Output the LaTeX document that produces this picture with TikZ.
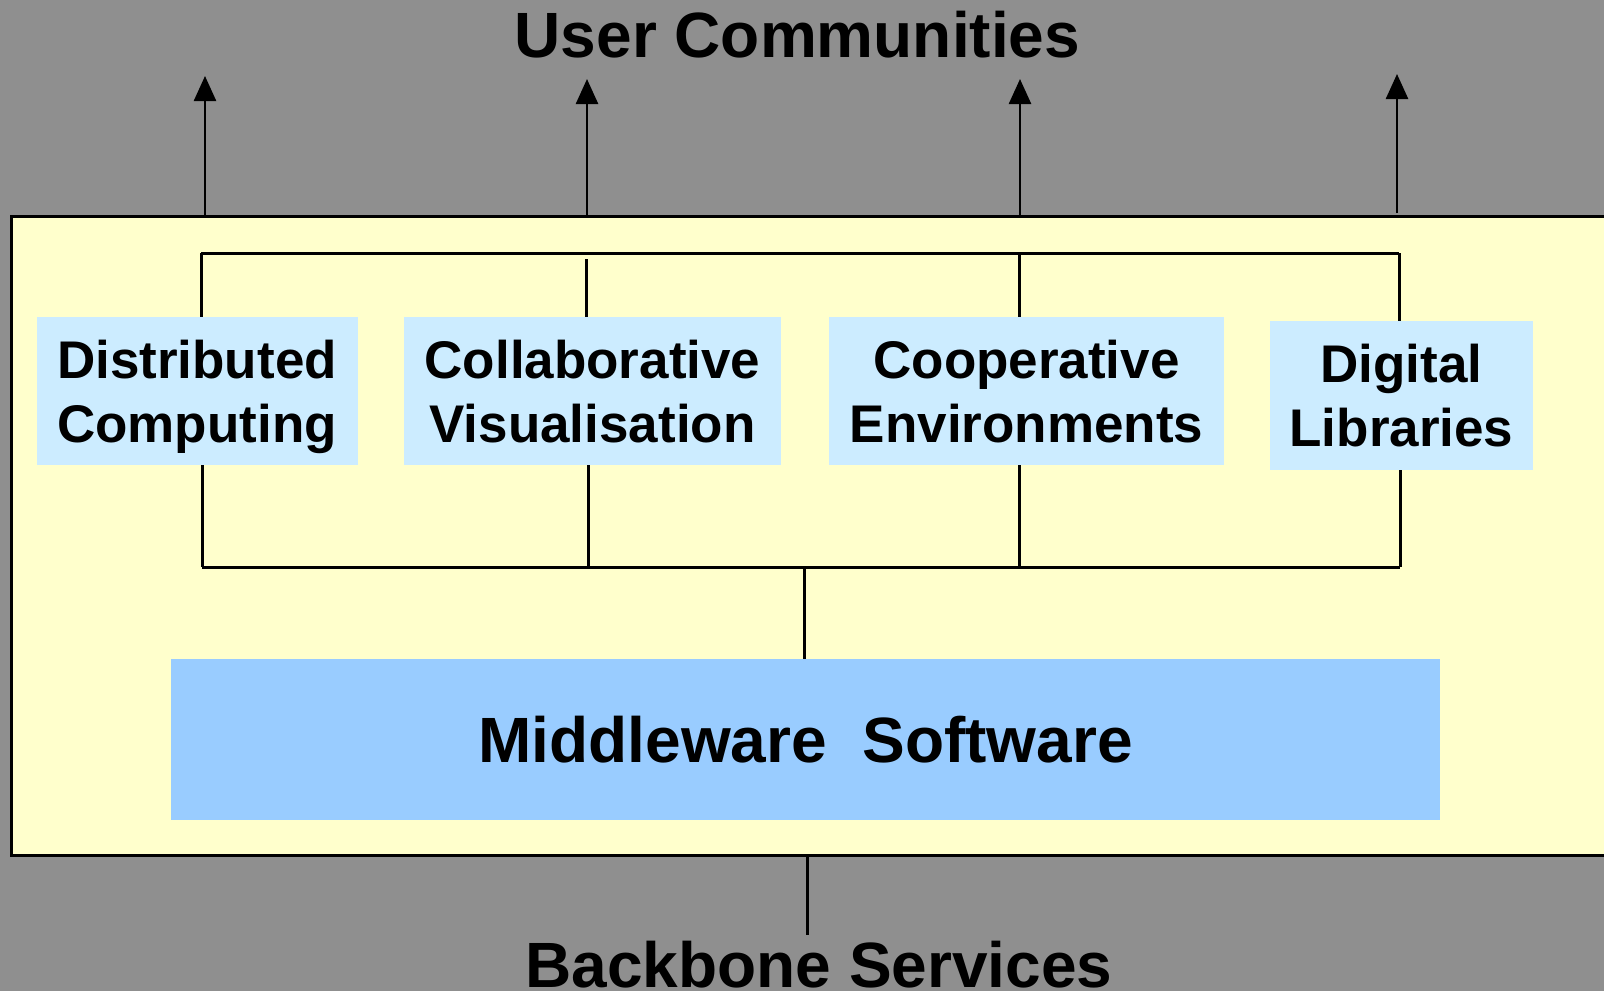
\documentclass[tikz,border=0pt]{standalone}
\usepackage{fontspec}
\setmainfont{Liberation Sans}
\usetikzlibrary{arrows.meta}
\definecolor{bggray}{RGB}{143,143,143}
\definecolor{paleyellow}{RGB}{255,255,204}
\definecolor{paleblue}{RGB}{204,236,255}
\definecolor{midblue}{RGB}{153,204,255}
\begin{document}
\begin{tikzpicture}[x=1pt,y=-1pt,
  frame/.style={draw=black, line width=3pt, fill=paleyellow, minimum width=1609pt, minimum height=639pt, inner sep=0pt},
  appbox/.style={fill=paleblue, inner sep=0pt, align=center, text depth=0pt,
    font=\fontsize{53}{64}\selectfont\bfseries},
  mwbox/.style={fill=midblue, inner sep=0pt, font=\fontsize{64}{72}\selectfont\bfseries},
  title/.style={inner sep=0pt, anchor=base, font=\fontsize{64}{72}\selectfont\bfseries},
  wire/.style={draw=black, line width=3pt},
  uparrow/.style={draw=black, line width=2.5pt, -{Triangle[length=25pt, width=22pt]}}
]
\path[use as bounding box, fill=bggray] (0,0) rectangle (1604,991);

% outer frame (extends beyond the right edge)
\node[frame] (frame) at (815.5,535.5) {};

% titles
\node[title] (uc) at (797.5,57) {User Communities};
\node[title] (bb) at (819,987) {Backbone Services};

% application boxes
\node[appbox, minimum width=321pt, minimum height=148pt] (dc) at (197,391) {Distributed\\Computing};
\node[appbox, minimum width=377pt, minimum height=148pt] (cv) at (592.5,391) {Collaborative\\Visualisation};
\node[appbox, minimum width=395pt, minimum height=148pt] (ce) at (1026.5,391) {Cooperative\\Environments};
\node[appbox, minimum width=263pt, minimum height=149pt] (dl) at (1401.5,395.5) {Digital\\Libraries};

% middleware
\node[mwbox, minimum width=1269pt, minimum height=161pt] (mw) at (805.5,739.5) {Middleware\ \ Software};

% bracket coordinates
\coordinate (t1) at (201,253);
\coordinate (t2) at (586,259);
\coordinate (t3) at (1019.5,253);
\coordinate (t4) at (1399,253);
\coordinate (b1) at (202,567);
\coordinate (b2) at (588,567);
\coordinate (b3) at (1019.5,567);
\coordinate (b4) at (1400,567);
\coordinate (bm) at (804,567);

% top and bottom bracket lines
\draw[wire] (t1) -- (t4);
\draw[wire] (b1) -- (b4);

% verticals from top line to boxes
\draw[wire] (t1) -- (t1 |- dc.north);
\draw[wire] (t2) -- (t2 |- cv.north);
\draw[wire] (t3) -- (t3 |- ce.north);
\draw[wire] (t4) -- (t4 |- dl.north);

% verticals from boxes to bottom line
\draw[wire] (b1 |- dc.south) -- (b1);
\draw[wire] (b2 |- cv.south) -- (b2);
\draw[wire] (b3 |- ce.south) -- (b3);
\draw[wire] (b4 |- dl.south) -- (b4);

% middle link to middleware
\draw[wire] (bm) -- (bm |- mw.north);

% arrows to user communities
\coordinate (u1) at (205,76);
\coordinate (u2) at (587,79);
\coordinate (u3) at (1020,79);
\coordinate (u4) at (1397,74);
\coordinate (u4s) at (1397,213);
\draw[uparrow] (u1 |- frame.north) -- (u1);
\draw[uparrow] (u2 |- frame.north) -- (u2);
\draw[uparrow] (u3 |- frame.north) -- (u3);
\draw[uparrow] (u4s) -- (u4);

% backbone link
\coordinate (bk) at (807.5,935);
\draw[draw=black, line width=2.5pt] (bk |- frame.south) -- (bk);
\end{tikzpicture}
\end{document}
